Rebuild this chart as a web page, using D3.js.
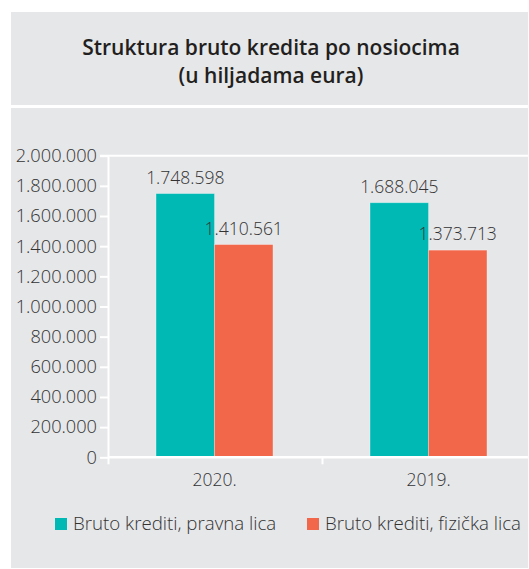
<!DOCTYPE html>
<html>
<head>
    <meta charset="utf-8">
    <title>Struktura bruto kredita</title>
    <script src="https://cdn.jsdelivr.net/npm/d3@7"></script>
    <style>
        body { margin: 0; background: #fff; }
        text { font-family: "Open Sans", sans-serif; fill: #333; }
    </style>
</head>
<body>
    <div id="chart"></div>
    <script>
        // podaci
        const godine = ["2020.", "2019."];
        const serije = ["Bruto krediti, pravna lica", "Bruto krediti, fizička lica"];
        const pravnaLica = [1748598, 1688045];
        const fizickaLica = [1410561, 1373713];
        const yTicks = [0, 200000, 400000, 600000, 800000, 1000000, 1200000, 1400000, 1600000, 1800000, 2000000];
        const naslov = ["Struktura bruto kredita po nosiocima", "(u hiljadama eura)"];

        const boje = ["#00b9b5", "#f2664a"];
        const W = 529, H = 569;

        const svg = d3.select("#chart").append("svg")
            .attr("width", W)
            .attr("height", H);

        // sivi paneli
        svg.append("rect").attr("x", 11).attr("y", 12).attr("width", 517).attr("height", 93).attr("fill", "#e6e7e9");
        svg.append("rect").attr("x", 11).attr("y", 108).attr("width", 517).attr("height", 460).attr("fill", "#e6e7e9");

        svg.selectAll(".naslov")
            .data(naslov)
            .enter()
            .append("text")
            .attr("x", 271)
            .attr("y", (d, i) => 55 + i * 28)
            .attr("text-anchor", "middle")
            .attr("font-size", "21px")
            .attr("font-weight", 600)
            .style("fill", "#231f20")
            .text(d => d);

        const y = d3.scaleLinear()
            .domain([0, 2000000])
            .range([457.3, 155.7]);

        const x0 = d3.scaleBand()
            .domain(godine)
            .range([107.5, 535.5])
            .paddingInner(0)
            .paddingOuter(0);

        const x1 = d3.scaleBand()
            .domain(serije)
            .range([0, x0.bandwidth()])
            .paddingInner(0)
            .paddingOuter(0.83);

        const fmt = v => d3.format(",")(v).replace(/,/g, ".");

        const g = svg.append("g");

        // gornja linija na 2.000.000
        g.append("line")
            .attr("x1", 100).attr("x2", 528)
            .attr("y1", y(2000000)).attr("y2", y(2000000))
            .attr("stroke", "#fff").attr("stroke-width", 2);

        const yAxis = d3.axisLeft(y)
            .tickValues(yTicks)
            .tickFormat(fmt)
            .tickSize(8)
            .tickSizeOuter(0)
            .tickPadding(3);

        const yg = g.append("g")
            .attr("transform", "translate(108,0)")
            .call(yAxis);
        yg.select(".domain").attr("stroke", "#fff").attr("stroke-width", 2);
        yg.selectAll(".tick line").attr("stroke", "#fff").attr("stroke-width", 2);
        yg.selectAll(".tick text")
            .attr("font-size", "18.2px")
            .attr("font-weight", 300)
            .attr("font-family", "'Open Sans', sans-serif")
            .style("fill", "#333");

        // stupci
        const data = godine.map((god, i) => ({ god, vrijednosti: [pravnaLica[i], fizickaLica[i]] }));

        const grupe = g.selectAll(".grupa")
            .data(data)
            .enter()
            .append("g")
            .attr("transform", d => "translate(" + x0(d.god) + ",0)");

        grupe.selectAll("rect")
            .data(d => d.vrijednosti.map((v, j) => ({ serija: serije[j], v, j })))
            .enter()
            .append("rect")
            .attr("x", d => x1(d.serija))
            .attr("y", d => y(d.v))
            .attr("width", x1.bandwidth())
            .attr("height", d => y(0) - y(d.v))
            .attr("fill", d => boje[d.j])
            .attr("stroke", "rgba(255,255,255,0.35)")
            .attr("stroke-width", 0.8);

        grupe.selectAll(".vrijednost")
            .data(d => d.vrijednosti.map((v, j) => ({ serija: serije[j], v, j })))
            .enter()
            .append("text")
            .attr("x", d => x1(d.serija) + x1.bandwidth() / 2)
            .attr("y", d => y(d.v) - 10)
            .attr("text-anchor", "middle")
            .attr("font-size", "17.5px")
            .attr("font-weight", 300)
            .text(d => fmt(d.v));

        // x os
        const xg = g.append("g");
        xg.append("line")
            .attr("x1", 108).attr("x2", 528)
            .attr("y1", y(0)).attr("y2", y(0))
            .attr("stroke", "#fff").attr("stroke-width", 2.5);
        xg.selectAll(".granica")
            .data(godine)
            .enter()
            .append("line")
            .attr("x1", d => x0(d) + 1).attr("x2", d => x0(d) + 1)
            .attr("y1", y(0)).attr("y2", y(0) + 7)
            .attr("stroke", "#fff").attr("stroke-width", 2);
        xg.selectAll(".godina")
            .data(godine)
            .enter()
            .append("text")
            .attr("x", d => x0(d) + x0.bandwidth() / 2)
            .attr("y", 486)
            .attr("text-anchor", "middle")
            .attr("font-size", "17.5px")
            .attr("font-weight", 300)
            .text(d => d);

        // legenda
        const legendaX = [55, 307];
        const leg = svg.selectAll(".legenda")
            .data(serije)
            .enter()
            .append("g")
            .attr("transform", (d, i) => "translate(" + legendaX[i] + ",518)");
        leg.append("rect")
            .attr("width", 12).attr("height", 12)
            .attr("fill", (d, i) => boje[i]);
        leg.append("text")
            .attr("x", 18)
            .attr("y", 12)
            .attr("font-size", "18.7px")
            .attr("font-weight", 300)
            .text(d => d);
    </script>
</body>
</html>
